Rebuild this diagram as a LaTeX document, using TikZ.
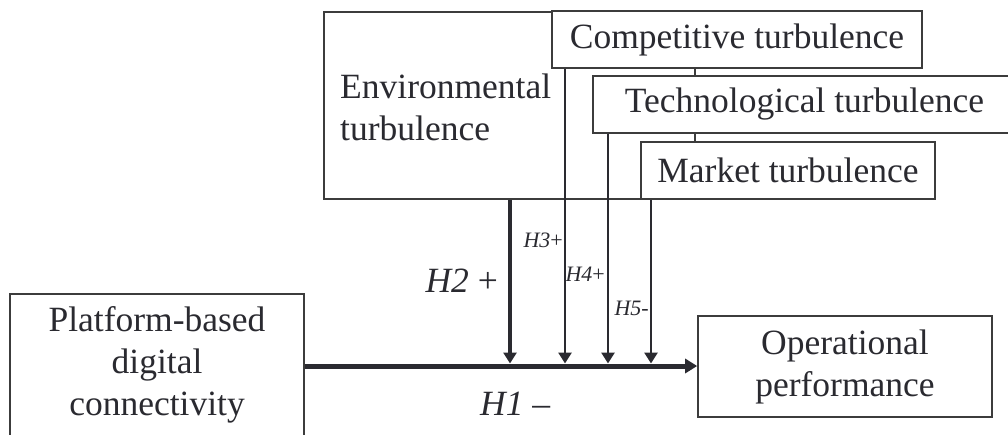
\documentclass[tikz,border=0pt]{standalone}
\usepackage{fontspec}
\setmainfont{Liberation Serif}
\usetikzlibrary{arrows.meta}
\definecolor{ink}{HTML}{2A2A30}
\definecolor{frame}{HTML}{3C3C3C}
\newcommand\bigtxt{\fontsize{35.5pt}{42pt}\selectfont}
\newcommand\smalltxt{\fontsize{22pt}{25pt}\selectfont}
\begin{document}
\begin{tikzpicture}[x=1pt,y=-1pt,
  box/.style={draw=frame,line width=1.6pt,fill=white,rectangle,inner sep=0pt,
    font=\bigtxt,text=ink,align=center},
  label/.style={inner sep=0pt,text=ink},
  link/.style={draw=ink,line width=2.8pt,-{Triangle[width=13pt,length=11pt]},shorten >=2.5pt},
  mainlink/.style={draw=ink,line width=5pt,-{Triangle[width=14pt,length=12pt]}}]
\useasboundingbox (0,0) rectangle (1008,434);

% moderator boxes (environmental box lies behind the three specific ones)
\node[box,minimum width=371pt,minimum height=187pt] (env) at (509.5,105.5) {};
\node[label,font=\bigtxt,anchor=west,align=left] (envtext) at (340,107) {Environmental\\turbulence};
\node[box,minimum width=370pt,minimum height=57pt] (comp) at (737,39.5) {Competitive turbulence};
\node[box,minimum width=423pt,minimum height=57pt] (tech) at (804.5,104.5) {Technological turbulence};
\node[box,minimum width=294pt,minimum height=57pt] (mkt) at (788,170.5) {Market turbulence};

% independent and dependent variables
\node[box,minimum width=294pt,minimum height=142pt] (plat) at (157,365) {Platform-based\\digital\\connectivity};
\node[box,minimum width=294pt,minimum height=101pt] (oper) at (845,366.5) {Operational\\performance};

% main effect
\draw[mainlink] (plat.east |- 0,366) -- (oper.west |- 0,366);

% junctions on the main path
\coordinate (j2) at (510,366);
\coordinate (j3) at (565,366);
\coordinate (j4) at (608,366);
\coordinate (j5) at (651,366);

\draw[link,line width=4pt] (j2 |- env.south) -- (j2);
\draw[link] (j3 |- comp.south) -- (j3);
\draw[link] (j4 |- tech.south) -- (j4);
\draw[link] (j5 |- mkt.south) -- (j5);

% hypothesis labels
\node[label,font=\bigtxt,anchor=base east] (h2) at (498,292) {\textit{H2} +};
\node[label,font=\bigtxt,anchor=base west] (h1) at (480,415) {\textit{H1} –};
\node[label,font=\smalltxt,anchor=base east] (h3) at (563,247) {\textit{H3}+};
\node[label,font=\smalltxt,anchor=base east] (h4) at (605,281) {\textit{H4}+};
\node[label,font=\smalltxt,anchor=base east] (h5) at (649,315) {\textit{H5}-};
\end{tikzpicture}
\end{document}
